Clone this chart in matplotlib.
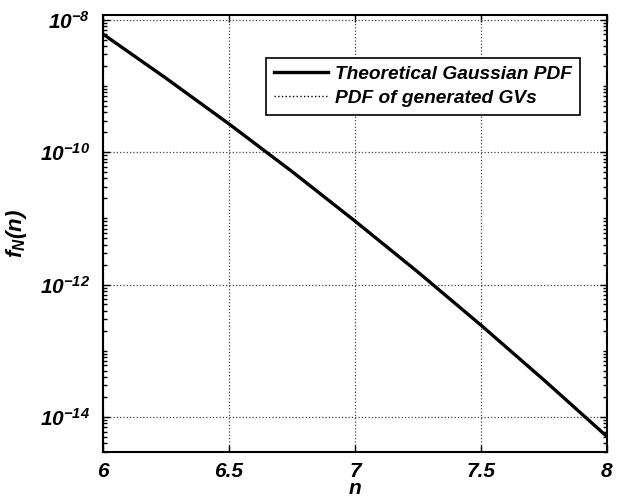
import matplotlib
matplotlib.use('Agg')
import matplotlib.pyplot as plt
from matplotlib.ticker import LogLocator, FixedLocator, NullFormatter

plt.rcParams['font.family'] = ['Liberation Sans', 'DejaVu Sans']
plt.rcParams['font.weight'] = 'bold'
plt.rcParams['font.style'] = 'italic'
plt.rcParams['axes.labelweight'] = 'bold'
plt.rcParams['mathtext.fontset'] = 'custom'
plt.rcParams['mathtext.bf'] = 'Liberation Sans:bold:italic'
plt.rcParams['mathtext.it'] = 'Liberation Sans:bold:italic'
plt.rcParams['mathtext.rm'] = 'Liberation Sans:bold:italic'

# values
n = [6.0, 6.25, 6.5, 6.75, 7.0, 7.25, 7.5, 7.75, 8.0]
pdf_theory = [6.08e-9, 1.31e-9, 2.67e-10, 5.1e-11, 9.1e-12, 1.54e-12, 2.43e-13, 3.6e-14, 5.05e-15]
pdf_generated = [6.1e-9, 1.30e-9, 2.66e-10, 5.1e-11, 9.0e-12, 1.56e-12, 2.42e-13, 3.6e-14, 5.0e-15]

x_ticks = [6, 6.5, 7, 7.5, 8]
x_ticklabels = ['6', '6.5', '7', '7.5', '8']
y_ticks = [1e-14, 1e-12, 1e-10, 1e-8]
y_ticklabels = [r'$\mathbf{10^{-14}}$', r'$\mathbf{10^{-12}}$', r'$\mathbf{10^{-10}}$', r'$\mathbf{10^{-8}}$']

fig = plt.figure(figsize=(6.31, 4.97), dpi=100)
ax = fig.add_axes([0.163, 0.0905, 0.799, 0.8785])

ax.semilogy(n, pdf_theory, color='black', lw=2.4, label='Theoretical Gaussian PDF')
ax.semilogy(n, pdf_generated, color='black', lw=1.0, ls=':', label='PDF of generated GVs')

ax.set_xlim(6, 8)
ax.set_ylim(2.95e-15, 1.16e-8)
ax.set_xticks(x_ticks)
ax.set_xticklabels(x_ticklabels, fontsize=15, fontweight='bold')
ax.yaxis.set_major_locator(FixedLocator(y_ticks))
ax.set_yticklabels(y_ticklabels, fontsize=15)
ax.yaxis.set_minor_locator(LogLocator(base=10, subs=range(1, 10), numticks=30))
ax.yaxis.set_minor_formatter(NullFormatter())

ax.tick_params(which='both', direction='in', top=True, right=True, width=1)
ax.tick_params(which='major', length=5)
ax.tick_params(which='minor', length=3)
ax.tick_params(axis='x', pad=7)
ax.tick_params(axis='y', pad=9)

ax.grid(True, which='major', ls=':', color='#444444', lw=0.9)
for s in ax.spines.values():
    s.set_linewidth(1.5)

ax.set_xlabel('n', fontsize=15, fontweight='bold', labelpad=-1)
ax.set_ylabel(r'$\mathbf{f_N(n)}$', fontsize=16, labelpad=8)

leg = ax.legend(loc='upper right', bbox_to_anchor=(0.946, 0.903),
                prop={'family': 'Liberation Sans', 'weight': 'bold', 'style': 'italic', 'size': 13.8},
                fancybox=False, edgecolor='black', framealpha=1, handlelength=2.8,
                handletextpad=0.4, borderaxespad=0, borderpad=0.4, labelspacing=0.35)
leg.get_frame().set_linewidth(1.2)

fig.savefig('out.png', dpi=100)
